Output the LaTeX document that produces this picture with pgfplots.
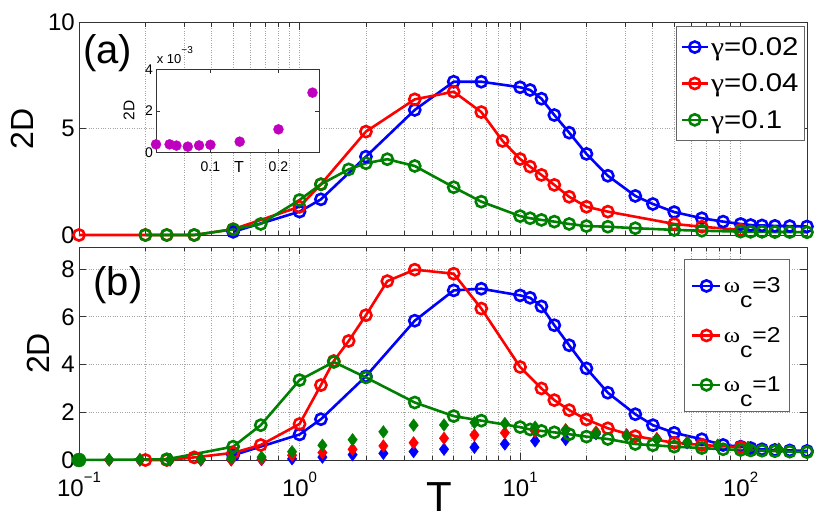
\documentclass[border=0pt]{standalone}
\usepackage{fontspec}
\setmainfont{Liberation Sans}
\newfontfamily\legfont{Liberation Sans}[FakeStretch=1.15]
\newfontfamily\leggrk{Liberation Serif}[FakeStretch=1.15]
\usepackage{pgfplots}
\pgfplotsset{compat=1.18}
\definecolor{mblue}{rgb}{0,0,1}
\definecolor{mred}{rgb}{1,0,0}
\definecolor{mgreen}{rgb}{0,0.5,0}
\definecolor{mmag}{rgb}{0.75,0,0.75}
\newcommand\fs[1]{\fontsize{#1}{#1}\selectfont}
\newcommand\sups[1]{\raisebox{13.5pt}{\fs{15}#1}}
\newcommand\omc[1]{{\leggrk ω}\raisebox{-15pt}{c}=#1}
\newcommand\gam[1]{{\leggrk γ}=#1}

\pgfplotsset{
  circ/.style={color=#1, line width=2.6pt, mark=o, mark size=5.6pt, mark options={solid, line width=2.6pt}},
  diam/.style={color=#1, only marks, mark=diamond*, mark size=6.3pt, forget plot},
}

\begin{document}
\begin{tikzpicture}
% ---------------- panel (a) ----------------
\begin{axis}[scale only axis, width=728pt, height=212.3pt, xmode=log, xmin=0.1, xmax=200,
  at={(0pt,225pt)}, anchor=south west, clip=false,
  xtick={0.1,1,10,100},
  minor xtick={0.2,0.3,0.4,0.5,0.6,0.7,0.8,0.9,2,3,4,5,6,7,8,9,20,30,40,50,60,70,80,90,200},
  axis line style={black!80, line width=0.8pt},
  tick style={black!80, line width=0.8pt},
  major tick length=7pt, minor tick length=4pt, tick align=inside,
  xmajorgrids=true, xminorgrids=true, ymajorgrids=true,
  major grid style={dotted, black!35, line width=0.8pt},
  minor grid style={dotted, black!35, line width=0.8pt},
  /pgf/number format/assume math mode=true,
  ticklabel style={font=\fs{24}},
  yticklabel style={inner sep=0pt, xshift=-4pt},
  xticklabel style={inner sep=0pt, yshift=-12pt},
  ymin=0, ymax=10, ytick={0,5,10}, xticklabels={},
  legend cell align=left,
  legend image code/.code={\draw[mark repeat=2,mark phase=2,#1] plot coordinates {(0pt,0pt) (13pt,0pt) (26pt,0pt)};},
  legend style={at={(rel axis cs:1,1)}, anchor=north east, xshift=-2pt, yshift=-3.3pt,
    draw=black!60, line width=0.8pt, font=\legfont\fs{25.6}, inner xsep=4pt, inner ysep=9pt, row sep=13pt}]
\addplot[circ=mblue] table {
0.5 0.15
1 1.1
1.25 1.68
2 3.69
3.33 5.89
5 7.22
6.67 7.22
10 6.96
11.1 6.83
12.5 6.42
14.3 5.65
16.7 4.82
20 3.82
25 2.79
33.3 1.84
40 1.46
50 1.08
66.7 0.79
83.3 0.63
100 0.52
111 0.47
125 0.45
143 0.43
167 0.42
200 0.40
};
\addlegendentry{\gam{0.02}}
\addplot[circ=mred] table {
0.1 0
0.2 0
0.25 0
0.333 0
0.5 0.27
1 1.33
1.25 2.39
2 4.87
3.33 6.39
5 6.75
6.67 5.79
8.33 4.43
10 3.58
11.1 3.22
12.5 2.83
14.3 2.36
16.7 1.80
20 1.33
25 1.10
50 0.52
66.7 0.39
100 0.24
};
\addlegendentry{\gam{0.04}}
\addplot[circ=mgreen] table {
0.2 0
0.25 0
0.333 0
0.5 0.27
0.667 0.52
1 1.65
1.25 2.39
1.67 3.09
2 3.38
2.5 3.57
3.33 3.25
5 2.25
6.67 1.57
10 0.89
11.1 0.79
12.5 0.71
14.3 0.63
16.7 0.52
20 0.42
25 0.39
33.3 0.32
50 0.24
66.7 0.20
100 0.16
111 0.15
125 0.15
143 0.14
167 0.14
200 0.13
};
\addlegendentry{\gam{0.1}}
\node[anchor=base west, inner sep=0pt, font=\fs{40}] at (axis description cs:0.0055,0.8088) {(a)};
\end{axis}
% ---------------- inset ----------------
\begin{axis}[at={(77pt,307.3pt)}, anchor=south west, scale only axis, width=163.3pt, height=83.4pt,
  xmin=0.02, xmax=0.26, ymin=0, ymax=4, xtick={0.1,0.2}, ytick={0,2,4},
  xticklabels={0.1,0.2},
  axis background/.style={fill=white}, clip=false,
  axis line style={black!80, line width=0.8pt},
  tick style={black!80, line width=0.8pt},
  major tick length=4pt, tick align=inside,
  /pgf/number format/assume math mode=true,
  ticklabel style={font=\fs{14}},
  yticklabel style={inner sep=0pt, xshift=-3pt},
  xticklabel style={inner sep=0pt, yshift=-9pt}]
\addplot[only marks, mark=*, mark size=5pt, color=mmag] table {
0.02 0.40
0.04 0.40
0.05 0.34
0.0667 0.29
0.0833 0.35
0.1 0.38
0.143 0.53
0.2 1.12
0.25 2.88
};
\node[anchor=base west, inner sep=0pt, font=\fs{13}] at (axis description cs:0.004,1.0636) {x 10\raisebox{10pt}{\fs{10}−3}};
\node[anchor=center, inner sep=0pt, font=\fs{16}] at (axis description cs:0.508,-0.17) {T};
\node[rotate=90, anchor=center, inner sep=0pt, font=\fs{15.5}] at (axis description cs:-0.165,0.51) {2D};
\end{axis}
% ---------------- panel (b) ----------------
\begin{axis}[scale only axis, width=728pt, height=213pt, xmode=log, xmin=0.1, xmax=200,
  at={(0pt,0pt)}, anchor=south west, clip=false,
  xtick={0.1,1,10,100},
  minor xtick={0.2,0.3,0.4,0.5,0.6,0.7,0.8,0.9,2,3,4,5,6,7,8,9,20,30,40,50,60,70,80,90,200},
  axis line style={black!80, line width=0.8pt},
  tick style={black!80, line width=0.8pt},
  major tick length=7pt, minor tick length=4pt, tick align=inside,
  xmajorgrids=true, xminorgrids=true, ymajorgrids=true,
  major grid style={dotted, black!35, line width=0.8pt},
  minor grid style={dotted, black!35, line width=0.8pt},
  /pgf/number format/assume math mode=true,
  ticklabel style={font=\fs{24}},
  yticklabel style={inner sep=0pt, xshift=-4pt},
  xticklabel style={inner sep=0pt, yshift=-12pt},
  ymin=0, ymax=8.93, ytick={0,2,4,6,8},
  xticklabels={10\sups{−1},10\sups{0},10\sups{1},10\sups{2}},
  legend cell align=left,
  legend image code/.code={\draw[mark repeat=2,mark phase=2,#1] plot coordinates {(0pt,0pt) (14pt,0pt) (28pt,0pt)};},
  legend style={at={(rel axis cs:1,1)}, anchor=north east, xshift=-17pt, yshift=-12.3pt,
    draw=black!60, line width=0.8pt, font=\legfont\fs{21.5}, inner xsep=7pt, inner ysep=16pt, row sep=29pt}]
\addplot[circ=mblue] table {
0.5 0.2
1 1.07
1.25 1.71
2 3.51
3.33 5.84
5 7.11
6.67 7.18
10 6.9
11.1 6.8
12.5 6.44
14.3 5.65
16.7 4.81
20 3.84
25 2.82
33.3 1.92
40 1.46
50 1.14
66.7 0.87
83.3 0.63
100 0.56
111 0.50
125 0.45
143 0.42
167 0.40
200 0.38
};
\addlegendentry{\omc{3}}
\addplot[circ=mred] table {
0.2 0
0.25 0
0.333 0.11
0.5 0.3
0.667 0.63
1 1.51
1.25 3.14
1.43 4.15
1.67 4.99
2 6.07
2.5 7.5
3.33 7.98
5 7.81
6.67 6.35
10 3.9
12.5 3.0
14.3 2.51
16.7 2.09
20 1.7
25 1.33
33.3 1.0
50 0.72
66.7 0.63
100 0.53
};
\addlegendentry{\omc{2}}
\addplot[diam=mblue] table {
0.137 0
0.189 0
0.259 0
0.357 0
0.490 0.01
0.673 0.02
0.925 0.05
1.27 0.12
1.74 0.22
2.40 0.28
3.29 0.35
4.52 0.45
6.21 0.53
8.53 0.67
11.7 0.8
16.1 0.86
22.1 1.1
30.4 1.05
41.7 0.88
57.3 0.72
78.7 0.6
108 0.5
149 0.45
};
\addplot[diam=mred] table {
0.137 0
0.189 0
0.259 0
0.357 0
0.490 0.01
0.673 0.03
0.925 0.2
1.27 0.31
1.74 0.45
2.40 0.59
3.29 0.72
4.52 0.91
6.21 1.05
8.53 1.14
11.7 1.2
16.1 1.27
22.1 1.18
30.4 1.05
41.7 0.9
57.3 0.75
78.7 0.62
108 0.52
149 0.45
};
\addplot[diam=mgreen] table {
0.137 0.02
0.189 0.02
0.259 0.03
0.357 0.04
0.490 0.08
0.673 0.12
0.925 0.35
1.27 0.62
1.74 0.85
2.40 1.18
3.29 1.46
4.52 1.47
6.21 1.57
8.53 1.53
11.7 1.38
16.1 1.25
22.1 1.12
30.4 1.0
41.7 0.86
57.3 0.74
78.7 0.62
108 0.52
149 0.45
};
\addplot[circ=mgreen] table {
0.1 0
0.25 0.03
0.5 0.56
0.667 1.46
1 3.35
1.43 4.11
2 3.46
3.33 2.41
5 1.84
6.67 1.65
10 1.38
11.1 1.28
12.5 1.22
14.3 1.16
16.7 1.08
20 0.98
25 0.88
33.3 0.67
40 0.62
50 0.56
66.7 0.50
83.3 0.45
100 0.42
111 0.40
125 0.39
143 0.37
167 0.35
200 0.33
};
\addlegendentry{\omc{1}}
\addplot[only marks, mark=*, mark size=7pt, color=mgreen, forget plot] coordinates {(0.1,0)};
\node[anchor=base west, inner sep=0pt, font=\fs{40}] at (axis description cs:0.0196,0.7746) {(b)};
\node[anchor=center, inner sep=0pt, font=\fs{42}] at (axis description cs:0.4945,-0.172) {T};
\end{axis}
% y axis labels at fixed picture positions
\node[rotate=90, anchor=center, inner sep=0pt, font=\fs{32}] at (-56.6pt,331.2pt) {2D};
\node[rotate=90, anchor=center, inner sep=0pt, font=\fs{32}] at (-40.5pt,106.5pt) {2D};
\pgfresetboundingbox
\path[use as bounding box] (-79pt,-68pt) rectangle (752pt,460pt);
\end{tikzpicture}
\end{document}
